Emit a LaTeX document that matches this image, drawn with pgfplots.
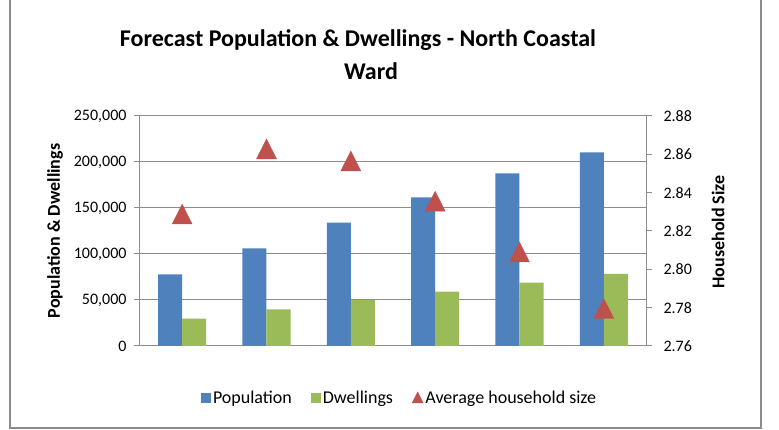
\documentclass[border=0pt]{standalone}
\usepackage{pgfplots}
\pgfplotsset{compat=1.18}
\usepackage{fontspec}
\setmainfont{Carlito}

\definecolor{popblue}{HTML}{4F81BD}
\definecolor{dwgreen}{HTML}{9BBB59}
\definecolor{hhred}{HTML}{C0504D}
\definecolor{axgray}{HTML}{8C8C8C}

\begin{document}
\begin{tikzpicture}
\useasboundingbox (0pt,0pt) rectangle (779pt,430pt);
% chart frame
\draw[axgray, line width=1.5pt] (10pt,432pt) -- (10pt,2pt) -- (761pt,2pt) -- (761pt,432pt);

% title
\node[anchor=base, font=\fontsize{24}{28}\selectfont\bfseries] at (358pt,383pt) {Forecast Population \& Dwellings - North Coastal};
\node[anchor=base, font=\fontsize{24}{28}\selectfont\bfseries] at (371pt,350pt) {Ward};

% axis titles
\node[rotate=90, font=\fontsize{18}{21}\selectfont\bfseries] at (55pt,199pt) {Population \& Dwellings};
\node[rotate=90, font=\fontsize{18}{21}\selectfont\bfseries] at (718pt,198pt) {Household Size};

\begin{axis}[
  at={(140pt,84pt)}, anchor=south west,
  width=506pt, height=230pt, scale only axis,
  xmin=0.5, xmax=6.5,
  ymin=0, ymax=250000,
  ytick={0,50000,100000,150000,200000,250000},
  xtick=\empty,
  axis line style={axgray, line width=1pt},
  axis x line*=bottom,
  axis y line*=left,
  tick style={axgray, line width=1pt},
  major tick length=6pt,
  tick align=outside,
  ymajorgrids,
  grid style={axgray, line width=1pt},
  ybar=0pt, bar width=24pt,
  scaled y ticks=false,
  /pgf/number format/.cd, fixed, 1000 sep={,}, assume math mode=true,
  /pgfplots/.cd,
  yticklabel style={font=\fontsize{16}{19}\selectfont, xshift=-4pt},
  legend style={at={(0.513,-0.226)}, anchor=center, draw=none,
    font=\fontsize{18}{21}\selectfont, legend columns=3,
    /tikz/every even column/.append style={column sep=17pt}},
  legend cell align=left,
]
\addplot[fill=popblue, draw=none, area legend,
  legend image code/.code={\fill[popblue] (0pt,-5pt) rectangle (10pt,5pt);}]
  coordinates {(1,77900) (2,106200) (3,134000) (4,161600) (5,187700) (6,210500)};
\addlegendentry{Population}
\addplot[fill=dwgreen, draw=none, area legend,
  legend image code/.code={\fill[dwgreen] (0pt,-5pt) rectangle (10pt,5pt);}]
  coordinates {(1,29700) (2,39900) (3,50000) (4,59000) (5,68800) (6,78300)};
\addlegendentry{Dwellings}
\addlegendimage{legend image code/.code={\fill[hhred] (0pt,-5pt) -- (11pt,-5pt) -- (5.5pt,6pt) -- cycle;}}
\addlegendentry{Average household size}
\end{axis}

\begin{axis}[
  at={(140pt,84pt)}, anchor=south west,
  width=506pt, height=230pt, scale only axis,
  xmin=0.5, xmax=6.5,
  ymin=2.76, ymax=2.88,
  ytick={2.76,2.78,2.80,2.82,2.84,2.86,2.88},
  xtick=\empty,
  axis x line=none,
  axis y line*=right,
  axis line style={axgray, line width=1pt},
  tick style={axgray, line width=1pt},
  major tick length=6pt,
  tick align=outside,
  /pgf/number format/.cd, fixed, fixed zerofill, precision=2, assume math mode=true,
  /pgfplots/.cd,
  yticklabel style={font=\fontsize{16}{19}\selectfont, xshift=8pt},
]
\addplot[only marks, mark=triangle*, mark size=11.5pt,
  mark options={fill=hhred, draw=hhred, yscale=1.15, yshift=-2.5pt}]
  coordinates {(1,2.8286) (2,2.8626) (3,2.8563) (4,2.8353) (5,2.8088) (6,2.7793)};
\end{axis}
\end{tikzpicture}
\end{document}
